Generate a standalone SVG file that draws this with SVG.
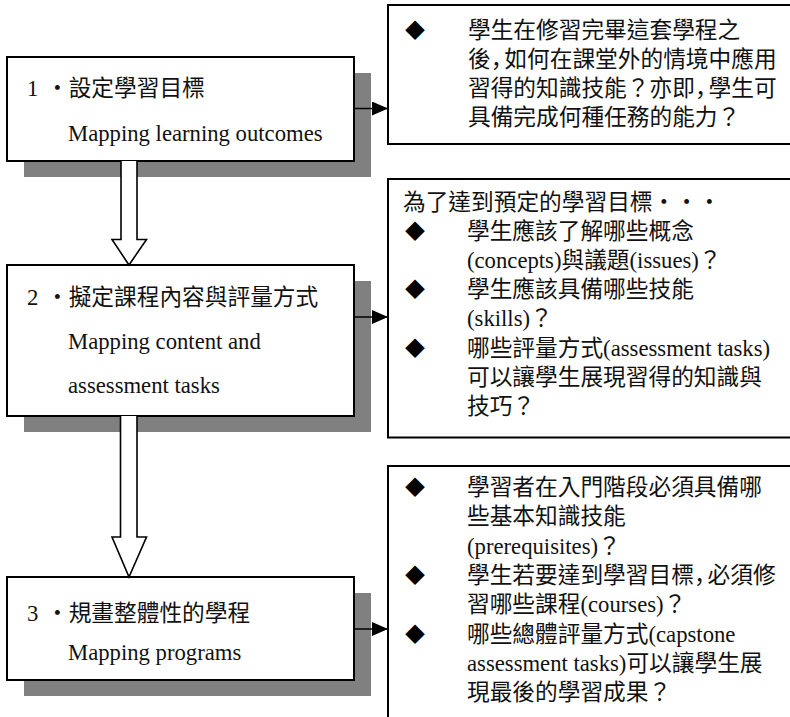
<svg xmlns="http://www.w3.org/2000/svg" width="790" height="717" viewBox="0 0 790 717">
  <style>
    .shadow { fill: #808080; stroke: none; }
    .step { fill: #ffffff; stroke: #000000; stroke-width: 2; }
    .note { fill: #ffffff; stroke: #000000; stroke-width: 2; }
    .flow { fill: #ffffff; stroke: #000000; stroke-width: 1.6; stroke-linejoin: miter; }
    .link { fill: none; stroke: #000000; stroke-width: 1.6; marker-end: url(#tip); }
    .t { font-family: "Liberation Serif", "Noto Sans CJK TC", serif; font-size: 22.7px; fill: #111111; }
    .comma { font-family: "Noto Sans CJK SC", "Noto Sans CJK TC", sans-serif; letter-spacing: -9px; }
    .bullet { font-family: "Noto Sans CJK TC", sans-serif; font-size: 20px; fill: #000000; text-anchor: middle; }
  </style>
  <defs>
    <marker id="tip" viewBox="0 0 16 14" refX="16" refY="7" markerWidth="16" markerHeight="14" markerUnits="userSpaceOnUse" orient="auto">
      <path d="M0,0 L16,7 L0,14 Z" fill="#000000"/>
    </marker>
  </defs>

  <rect width="790" height="717" fill="#ffffff"/>

  <!-- step 1 -->
  <g id="step1">
    <rect class="shadow" x="24" y="73" width="347" height="104"/>
    <rect class="step" x="7" y="57" width="347" height="104"/>
    <text class="t" x="27" y="96">1<tspan x="46">・設定學習目標</tspan></text>
    <text class="t" x="68" y="141">Mapping learning outcomes</text>
  </g>

  <!-- step 2 -->
  <g id="step2">
    <rect class="shadow" x="24" y="281" width="347" height="151"/>
    <rect class="step" x="7" y="265" width="347" height="151"/>
    <text class="t" x="27" y="305">2<tspan x="46">・擬定課程內容與評量方式</tspan></text>
    <text class="t" x="68" y="349">Mapping content and</text>
    <text class="t" x="68" y="393">assessment tasks</text>
  </g>

  <!-- step 3 -->
  <g id="step3">
    <rect class="shadow" x="24" y="593" width="347" height="103"/>
    <rect class="step" x="7" y="577" width="347" height="103"/>
    <text class="t" x="27" y="621">3<tspan x="46">・規畫整體性的學程</tspan></text>
    <text class="t" x="68" y="660">Mapping programs</text>
  </g>

  <!-- note for step 1 -->
  <g id="note1">
    <rect class="note" x="388" y="5" width="420" height="139"/>
    <text class="bullet" x="415" y="38">◆</text>
    <text class="t" x="468" y="38">學生在修習完畢這套學程之</text>
    <text class="t" x="468" y="67">後<tspan class="comma">，</tspan>如何在課堂外的情境中應用</text>
    <text class="t" x="468" y="96">習得的知識技能？亦即<tspan class="comma">，</tspan>學生可</text>
    <text class="t" x="468" y="125">具備完成何種任務的能力？</text>
  </g>

  <!-- note for step 2 -->
  <g id="note2">
    <rect class="note" x="388" y="179" width="420" height="258.5"/>
    <text class="t" x="403" y="210">為了達到預定的學習目標・・・</text>
    <text class="bullet" x="415" y="239">◆</text>
    <text class="t" x="467" y="239">學生應該了解哪些概念</text>
    <text class="t" x="467" y="268">(concepts)與議題(issues)？</text>
    <text class="bullet" x="415" y="297">◆</text>
    <text class="t" x="467" y="297">學生應該具備哪些技能</text>
    <text class="t" x="467" y="326">(skills)？</text>
    <text class="bullet" x="415" y="356">◆</text>
    <text class="t" x="467" y="356">哪些評量方式(assessment tasks)</text>
    <text class="t" x="467" y="385">可以讓學生展現習得的知識與</text>
    <text class="t" x="467" y="414">技巧？</text>
  </g>

  <!-- note for step 3 -->
  <g id="note3">
    <rect class="note" x="388" y="466" width="420" height="270"/>
    <text class="bullet" x="415" y="495">◆</text>
    <text class="t" x="467" y="495">學習者在入門階段必須具備哪</text>
    <text class="t" x="467" y="524">些基本知識技能</text>
    <text class="t" x="467" y="554">(prerequisites)？</text>
    <text class="bullet" x="415" y="583">◆</text>
    <text class="t" x="467" y="583">學生若要達到學習目標<tspan class="comma">，</tspan>必須修</text>
    <text class="t" x="467" y="612">習哪些課程(courses)？</text>
    <text class="bullet" x="415" y="642">◆</text>
    <text class="t" x="467" y="642">哪些總體評量方式(capstone</text>
    <text class="t" x="467" y="671">assessment tasks)可以讓學生展</text>
    <text class="t" x="467" y="700">現最後的學習成果？</text>
  </g>

  <!-- connectors -->
  <g id="connectors">
    <path class="flow" d="M121,161 L121,239.5 L112,239.5 L129,265 L146.5,239.5 L137,239.5 L137,161"/>
    <path class="flow" d="M120.5,416 L120.5,537 L112,537 L129,577 L146.5,537 L137,537 L137,416"/>
    <line class="link" x1="354" y1="108.5" x2="388" y2="108.5"/>
    <line class="link" x1="354" y1="317" x2="388" y2="317"/>
    <line class="link" x1="354" y1="629" x2="388" y2="629"/>
  </g>
</svg>
